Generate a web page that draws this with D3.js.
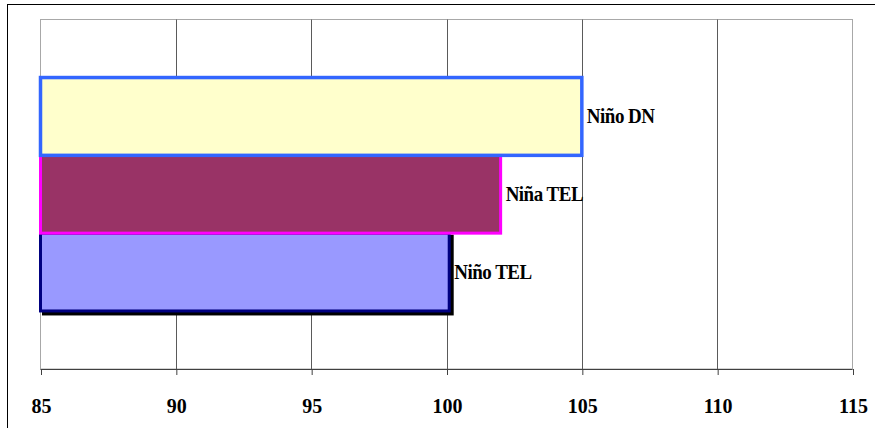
<!DOCTYPE html>
<html>
<head>
<meta charset="utf-8">
<script src="https://cdn.jsdelivr.net/npm/d3@7"></script>
<style>
  html, body { margin: 0; padding: 0; background: #fff; }
  svg { display: block; }
  text { font-family: "Liberation Serif", "Times New Roman", serif; font-weight: bold; fill: #000; }
</style>
</head>
<body>
<svg id="chart" width="875" height="428"></svg>
<script>
// ---- data ----
const series = ["Niño TEL", "Niña TEL", "Niño DN"];   // drawing order (bottom to top)
const values = [100.1, 102.0, 105.0];
const fills = ["#9999FF", "#993366", "#FFFFCC"];
const strokes = ["#000080", "#FF00FF", "#3366FF"];
const tickValues = [85, 90, 95, 100, 105, 110, 115];
const xDomain = [85, 115];

// ---- layout ----
const svg = d3.select("#chart");
const plot = { left: 40.5, right: 852.5, top: 19.5, bottom: 369 };

const x = d3.scaleLinear().domain(xDomain).range([plot.left, plot.right]);
const y = d3.scaleBand()
  .domain(series.slice().reverse())
  .range([plot.top, plot.bottom])
  .paddingInner(0)
  .paddingOuter(0.746);

// outer chart frame (only top/left visible)
svg.append("rect")
  .attr("x", 7.5).attr("y", 4.5)
  .attr("width", 900).attr("height", 500)
  .attr("fill", "none").attr("stroke", "#000").attr("stroke-width", 1);

// plot-area border
svg.append("rect")
  .attr("x", plot.left).attr("y", plot.top)
  .attr("width", plot.right - plot.left).attr("height", plot.bottom - plot.top)
  .attr("fill", "#fff").attr("stroke", "#a8a8a8").attr("stroke-width", 1);

// vertical gridlines
svg.append("g").selectAll("line")
  .data(tickValues.filter(t => t !== xDomain[0] && t !== xDomain[1]))
  .join("line")
  .attr("x1", d => Math.round(x(d)) + 0.5).attr("x2", d => Math.round(x(d)) + 0.5)
  .attr("y1", plot.top).attr("y2", plot.bottom)
  .attr("stroke", "#5a5a5a").attr("stroke-width", 1);

// shadow for first series
const bars = svg.append("g");
bars.append("rect")
  .attr("x", x(xDomain[0]) + 3)
  .attr("y", y(series[0]) + 3)
  .attr("width", x(values[0]) - x(xDomain[0]))
  .attr("height", y.bandwidth())
  .attr("fill", "#000").attr("stroke", "#000").attr("stroke-width", 3);

// bars
bars.selectAll("rect.bar")
  .data(series.map((s, i) => ({ s, v: values[i], i })))
  .join("rect")
  .attr("class", "bar")
  .attr("x", x(xDomain[0]))
  .attr("y", d => y(d.s))
  .attr("width", d => x(d.v) - x(xDomain[0]))
  .attr("height", y.bandwidth())
  .attr("fill", d => fills[d.i])
  .attr("stroke", d => strokes[d.i])
  .attr("stroke-width", d => d.i === 2 ? 3.5 : 3);

// bar labels
svg.append("g").selectAll("text")
  .data(series.map((s, i) => ({ s, v: values[i], i })))
  .join("text")
  .attr("transform", d => `translate(${x(d.v) + 5},${y(d.s) + y.bandwidth() / 2 + 6.5}) scale(1,1.06)`)
  .attr("font-size", 19)
  .attr("letter-spacing", -0.5)
  .text(d => d.s);

// x axis
const axis = d3.axisBottom(x).tickValues(tickValues).tickSize(6).tickFormat(d3.format("d"));
const gAxis = svg.append("g")
  .attr("transform", `translate(0.5,${plot.bottom})`)
  .call(axis);
gAxis.select(".domain").attr("stroke", "#404040").attr("d", `M${plot.left - 0.5},0.5H${plot.right - 0.5}`);
gAxis.selectAll(".tick line").attr("stroke", "#404040");
gAxis.selectAll(".tick text")
  .attr("y", 40).attr("dy", 0)
  .attr("transform", "scale(1,1.1)")
  .attr("font-family", "Liberation Serif, Times New Roman, serif")
  .attr("font-weight", "bold")
  .attr("font-size", 20)
  .attr("fill", "#000");
</script>
</body>
</html>
